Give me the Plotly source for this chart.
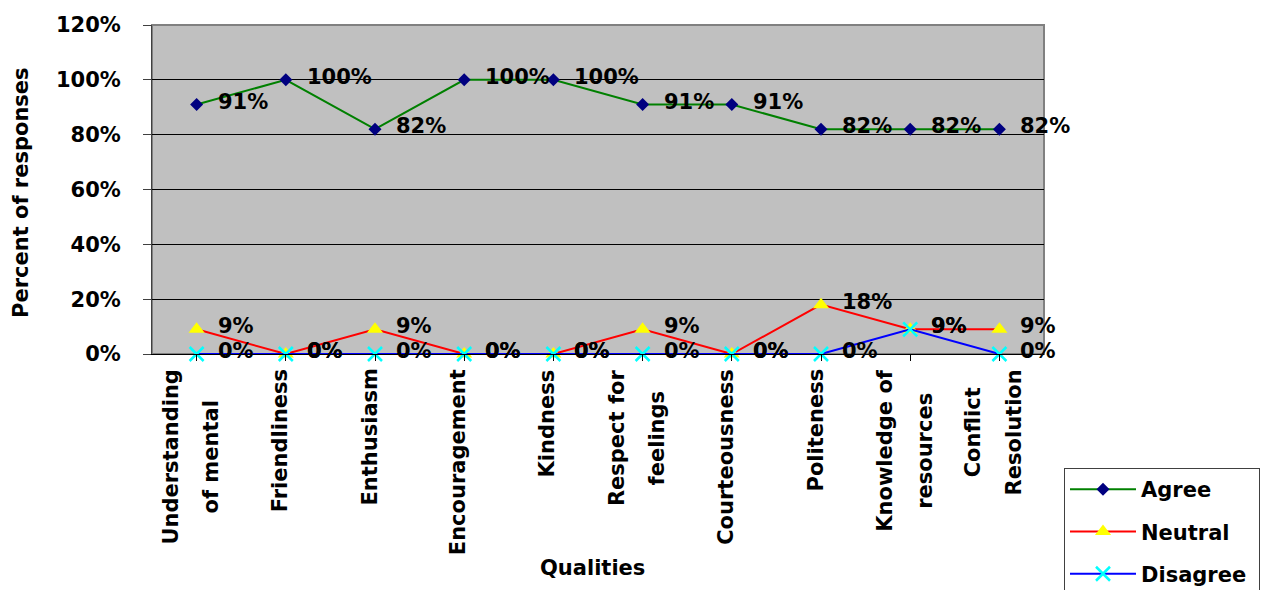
import plotly.graph_objects as go

# Survey results: share of responses per quality
categories = [
    "Understanding<br>of mental",
    "Friendliness",
    "Enthusiasm",
    "Encouragement",
    "Kindness",
    "Respect for<br>feelings",
    "Courteousness",
    "Politeness",
    "Knowledge of<br>resources",
    "Conflict<br>Resolution",
]
agree = [91, 100, 82, 100, 100, 91, 91, 82, 82, 82]
neutral = [9, 0, 9, 0, 0, 9, 0, 18, 9, 9]
disagree = [0, 0, 0, 0, 0, 0, 0, 0, 9, 0]
y_ticks = [0, 20, 40, 60, 80, 100, 120]

FONT = "DejaVu Sans, Arial, sans-serif"
FS = 21

series = [
    ("Agree", agree, "#008000", dict(symbol="diamond", size=10, color="#000080")),
    ("Neutral", neutral, "#FF0000", dict(symbol="triangle-up", size=14, color="#FFFF00")),
    ("Disagree", disagree, "#0000FF",
     dict(symbol="x-thin", size=14, color="#00FFFF", line=dict(width=2.5, color="#00FFFF"))),
]

x_idx = list(range(len(categories)))

fig = go.Figure()
annotations = []
for name, vals, lc, mk in series:
    fig.add_trace(go.Scatter(
        x=x_idx, y=vals, name=name + "\u00a0", legendgroup=name,
        mode="lines+markers",
        line=dict(color=lc, width=2),
        marker=mk,
        cliponaxis=False,
    ))
    # value labels to the right of each point
    for i, v in zip(x_idx, vals):
        annotations.append(dict(
            x=i, xref="x", y=v, yref="y",
            text=f"{v}%", showarrow=False,
            xanchor="left", yanchor="middle", xshift=19, yshift=3,
            font=dict(family=FONT, size=FS, color="black", weight="bold"),
        ))

# Category labels under the axis, rotated, lines centred on each other
for i, cat in enumerate(categories):
    annotations.append(dict(
        x=i, xref="x", y=0, yref="paper",
        text=f"<span style='font-size:{FS}px'>{cat}</span>",
        textangle=-90, showarrow=False,
        xanchor="center", yanchor="top", align="center",
        yshift=-13, xshift=-6,
        font=dict(family=FONT, size=31, color="black", weight="bold"),
    ))

annotations.append(dict(
    x=(592 - 152) / 892, xref="paper", y=(354 - 568) / 329, yref="paper",
    text="Qualities", showarrow=False, xanchor="center", yanchor="middle",
    font=dict(family=FONT, size=FS, color="black", weight="bold"),
))
annotations.append(dict(
    x=(21 - 152) / 892, xref="paper", y=(354 - 193) / 329, yref="paper",
    text="Percent of responses", textangle=-90, showarrow=False,
    xanchor="center", yanchor="middle",
    font=dict(family=FONT, size=FS, color="black", weight="bold"),
))

fig.update_layout(
    width=1263, height=590,
    margin=dict(l=152, r=219, t=25, b=236, autoexpand=False),
    paper_bgcolor="white",
    plot_bgcolor="#C0C0C0",
    font=dict(family=FONT, size=FS, color="black", weight="bold"),
    showlegend=True,
    legend=dict(
        x=(1064 - 152) / 892, y=(354 - 468) / 329,
        xanchor="left", yanchor="top",
        bordercolor="#404040", borderwidth=1, bgcolor="white",
        font=dict(family=FONT, size=FS, color="black", weight="bold"),
        tracegroupgap=12, traceorder="grouped",
        itemwidth=66,
    ),
    annotations=annotations,
    shapes=[dict(
        type="rect", xref="paper", yref="paper", x0=0, x1=1, y0=0, y1=1,
        line=dict(color="#808080", width=2), layer="below",
    )],
)

fig.update_xaxes(
    range=[-0.5, len(categories) - 0.5],
    tickvals=x_idx, showticklabels=False,
    tickson="boundaries", ticks="outside", ticklen=6, tickcolor="black",
    showline=True, linecolor="black", linewidth=1,
    showgrid=False, zeroline=False,
)
fig.update_yaxes(
    range=[0, 120], tickvals=y_ticks, ticktext=[f"{t}%" for t in y_ticks],
    ticks="outside", ticklen=8, tickcolor="#404040",
    ticklabelstandoff=18,
    tickfont=dict(family=FONT, size=FS, color="black", weight="bold"),
    showline=True, linecolor="#404040", linewidth=1,
    showgrid=True, gridcolor="black", gridwidth=1, zeroline=False,
)

fig.write_html("out.html")
